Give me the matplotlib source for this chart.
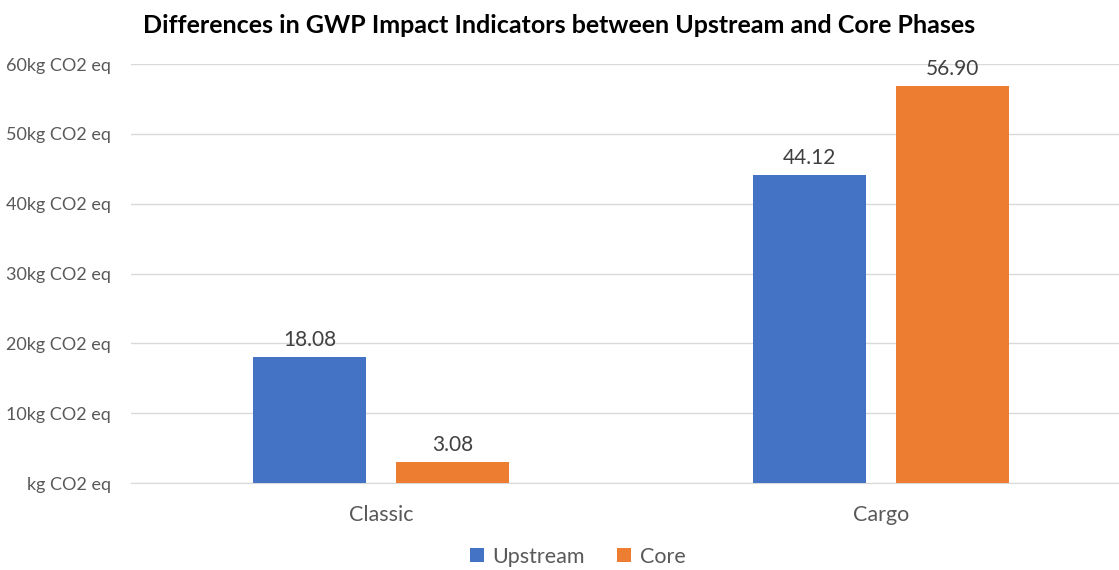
import matplotlib.pyplot as plt
from matplotlib.ticker import FuncFormatter
import numpy as np

plt.rcParams['font.family'] = ['Lato', 'DejaVu Sans']

categories = ["Classic", "Cargo"]
upstream = [18.08, 44.12]
core = [3.08, 56.90]
y_ticks = [0, 10, 20, 30, 40, 50, 60]

blue = "#4472C4"
orange = "#ED7D31"
grey_text = "#595959"

fig = plt.figure(figsize=(11.19, 5.70), dpi=100)
ax = fig.add_axes([0.117, 0.1526, 0.883, 0.7351])

x = np.arange(len(categories))
w = 0.225
off = 0.143
b1 = ax.bar(x - off, upstream, w, color=blue, label="Upstream", zorder=3)
b2 = ax.bar(x + off, core, w, color=orange, label="Core", zorder=3)

for bars in (b1, b2):
    ax.bar_label(bars, labels=[f"{v:.2f}" for v in bars.datavalues],
                 padding=5, fontsize=15, color="#404040")

ax.set_xlim(-0.5, 1.476)
ax.set_ylim(0, 60)
ax.set_yticks(y_ticks)
ax.yaxis.set_major_formatter(FuncFormatter(
    lambda v, p: "kg CO2 eq" if v == 0 else f"{int(v)}kg CO2 eq"))
ax.set_xticks(x)
ax.set_xticklabels(categories)
ax.tick_params(axis='both', length=0, labelcolor=grey_text)
ax.tick_params(axis='y', pad=14.5, labelsize=13)
ax.tick_params(axis='x', pad=16, labelsize=15.5)
ax.grid(axis='y', color="#D9D9D9", linewidth=1, zorder=0)
for s in ["top", "right", "left"]:
    ax.spines[s].set_visible(False)
ax.spines["bottom"].set_color("#D9D9D9")

fig.suptitle("Differences in GWP Impact Indicators between Upstream and Core Phases",
             fontsize=18, fontweight="bold", x=0.5, y=0.975)

fig.legend(loc="lower center", bbox_to_anchor=(0.516, -0.017), ncol=2, frameon=False,
           fontsize=15.5, handlelength=0.65, handleheight=0.65, handletextpad=0.4,
           columnspacing=1.5, labelcolor=grey_text, borderpad=0.1)

fig.savefig("out.png")
